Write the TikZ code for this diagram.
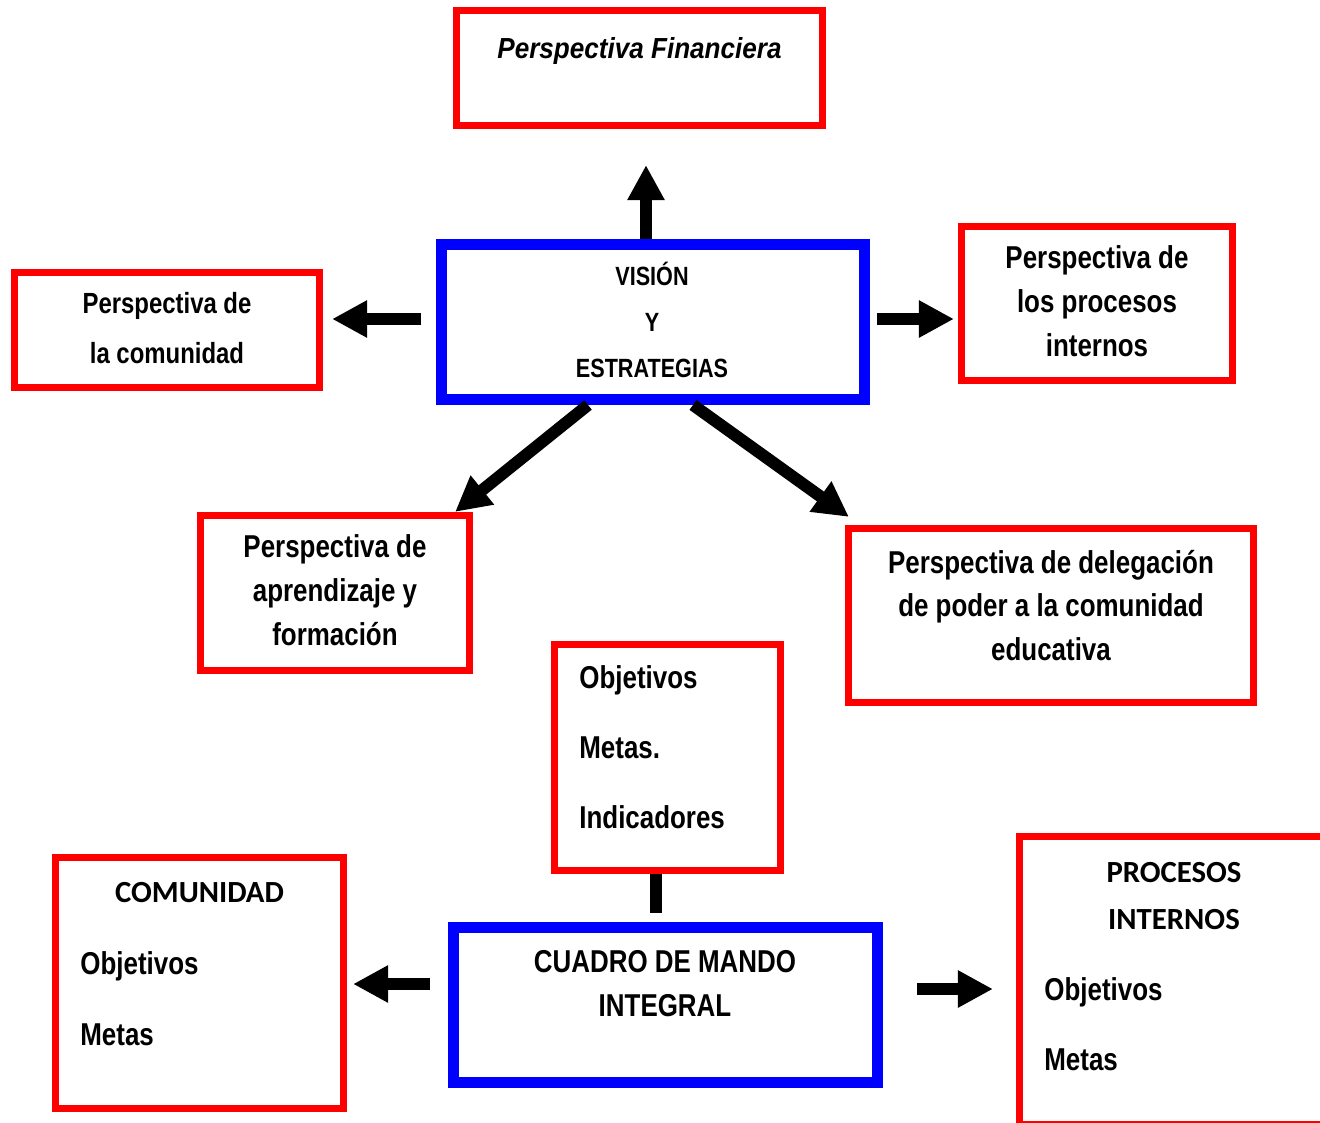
\documentclass[tikz,border=0pt]{standalone}
\usepackage{fontspec}
\usetikzlibrary{arrows.meta}

\newfontfamily\narrowfont{Liberation Sans}[FakeStretch=0.82]
\newfontfamily\wideitfont{Liberation Sans}[FakeStretch=0.9]
\newfontfamily\calfont{Carlito}

\tikzstyle{redbox} = [rectangle, draw=red, line width=0.145cm, inner sep=0pt]
\tikzstyle{bluebox} = [rectangle, draw=blue, line width=0.22cm, inner sep=0pt]
\tikzstyle{txt} = [inner sep=0pt, align=center, anchor=north, font=\narrowfont\bfseries\fontsize{18}{25}\selectfont]
\tikzstyle{lst} = [inner sep=0pt, align=left, anchor=north west, font=\narrowfont\bfseries\fontsize{18}{40}\selectfont]
\tikzstyle{fat} = [line width=0.24cm, -{Triangle[length=0.7cm,width=0.7cm]}]

\begin{document}
\begin{tikzpicture}[x=0.02cm,y=-0.02cm]
\useasboundingbox (0,0) rectangle (1320,1123);

\node [redbox,minimum width=7.32cm,minimum height=2.3cm] (fin) at (639.5,68) {};
\node [bluebox,minimum width=8.46cm,minimum height=3.1cm] (vis) at (653,322) {};
\node [redbox,minimum width=6.1cm,minimum height=2.3cm] (com) at (167,330) {};
\node [redbox,minimum width=5.42cm,minimum height=3.08cm] (proc) at (1097,303.5) {};
\node [redbox,minimum width=5.38cm,minimum height=3.1cm] (apr) at (335,593) {};
\node [redbox,minimum width=8.1cm,minimum height=3.48cm] (del) at (1051,615.5) {};
\node [redbox,minimum width=4.52cm,minimum height=4.52cm] (obj) at (667.5,757.5) {};
\node [bluebox,minimum width=8.48cm,minimum height=3.1cm] (cmi) at (665.5,1005) {};
\node [redbox,minimum width=5.76cm,minimum height=5.02cm] (comu) at (199.5,983) {};
\node [redbox,minimum width=6.21cm,minimum height=5.76cm] (pint) at (1174.75,980.5) {};

\node [txt,font=\wideitfont\bfseries\itshape\fontsize{16.5}{20}\selectfont] (fint) at (639.5,37) {Perspectiva Financiera};
\node [txt,font=\narrowfont\bfseries\fontsize{15}{26.1}\selectfont] (vist) at (652,262) {VISIÓN\\Y\\ESTRATEGIAS};
\node [txt,font=\narrowfont\bfseries\fontsize{16.6}{28.3}\selectfont] (comt) at (167,292) {Perspectiva de\\la comunidad};
\node [txt,font=\narrowfont\bfseries\fontsize{18}{25.2}\selectfont] (proct) at (1097,245) {Perspectiva de\\los procesos\\internos};
\node [txt] (aprt) at (335,534) {Perspectiva de\\aprendizaje y\\formación};
\node [txt,font=\narrowfont\bfseries\fontsize{18}{24.7}\selectfont] (delt) at (1051,550) {Perspectiva de delegación\\de poder a la comunidad\\educativa};
\node [lst] (objt) at (579,665) {Objetivos\\Metas.\\Indicadores};
\node [txt] (cmit) at (665,950) {CUADRO DE MANDO\\INTEGRAL};
\node [txt,font=\calfont\bfseries\fontsize{17.5}{26.6}\selectfont] (comut) at (199.5,882) {COMUNIDAD};
\node [lst,font=\narrowfont\bfseries\fontsize{18}{40.8}\selectfont] (comul) at (80,951) {Objetivos\\Metas};
\node [txt,font=\calfont\bfseries\fontsize{17.5}{26.6}\selectfont] (pintt) at (1174,862) {PROCESOS\\INTERNOS};
\node [lst,font=\narrowfont\bfseries\fontsize{18}{39.7}\selectfont] (pintl) at (1044,977) {Objetivos\\Metas};

\draw [fat,shorten >=0.72cm] ([xshift=-0.14cm]vis.north) -- ([xshift=-0.14cm]vis.north |- fin.south);
\draw [fat,shorten <=0.3cm,shorten >=0.18cm] ([yshift=0.06cm]vis.west) -- ([yshift=0.06cm]vis.west -| com.east);
\draw [fat,shorten <=0.14cm,shorten >=0.08cm] ([yshift=0.06cm]vis.east) -- ([yshift=0.06cm]vis.east -| proc.west);
\draw [fat] ([xshift=-1.3cm]vis.south) -- ([xshift=-0.36cm]apr.north east);
\draw [fat] ([xshift=0.8cm]vis.south) -- ([shift={(0.08cm,0.16cm)}]del.north west);
\draw [line width=0.25cm,shorten >=0.18cm] ([xshift=-0.23cm]obj.south) -- ([xshift=-0.23cm]obj.south |- cmi.north);
\draw [fat,shorten <=0.36cm,shorten >=0.12cm] ([yshift=0.42cm]cmi.west) -- ([yshift=0.42cm]cmi.west -| comu.east);
\draw [fat,shorten <=0.68cm,shorten >=0.46cm] ([yshift=0.32cm]cmi.east) -- ([yshift=0.32cm]cmi.east -| pint.west);
\end{tikzpicture}
\end{document}
